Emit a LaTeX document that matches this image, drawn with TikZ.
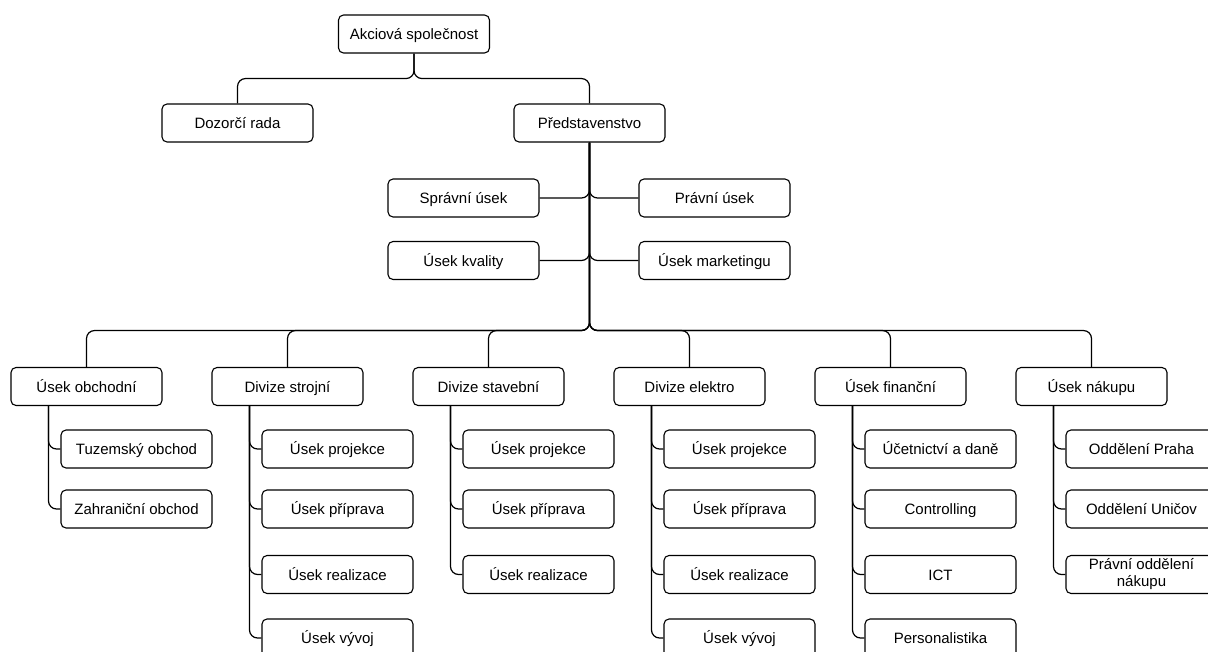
\documentclass[tikz,border=0pt]{standalone}
\usepackage{fontspec}
\setmainfont{Liberation Sans}
\usetikzlibrary{backgrounds}
\begin{document}
\begin{tikzpicture}[x=1pt,y=-1pt,
  boxbase/.style={draw=black,fill=white,line width=1.1pt,rounded corners=5pt,
    minimum width=151pt,minimum height=38pt,inner sep=0pt,align=center,
    font=\fontsize{15}{17}\selectfont},
  box/.style={boxbase,text height=11pt,text depth=0pt},
  link/.style={draw=black,line width=1.2pt,rounded corners=8pt}]
\useasboundingbox (0,0) rectangle (1208,651);
\clip (0,0) rectangle (1208,651);

% top levels
\node[box] (akc)  at (414,34)    {Akciová společnost};
\node[box] (doz)  at (237.5,123) {Dozorčí rada};
\node[box] (pred) at (589.5,123) {Představenstvo};

% staff units beside the board
\node[box] (spr)  at (463.5,198)   {Správní úsek};
\node[box] (prav) at (714.5,198)   {Právní úsek};
\node[box] (kval) at (463.5,260.5) {Úsek kvality};
\node[box] (mark) at (714.5,260.5) {Úsek marketingu};

% divisions and departments
\node[box] (obch) at (86.5,386.5)   {Úsek obchodní};
\node[box] (stro) at (287.5,386.5)  {Divize strojní};
\node[box] (stav) at (488.5,386.5)  {Divize stavební};
\node[box] (elek) at (689.5,386.5)  {Divize elektro};
\node[box] (fin)  at (890.5,386.5)  {Úsek finanční};
\node[box] (nak)  at (1091.5,386.5) {Úsek nákupu};

% sub-units
\node[box] (obch1) at (136.5,449) {Tuzemský obchod};
\node[box] (obch2) at (136.5,509) {Zahraniční obchod};

\node[box] (stro1) at (337.5,449)   {Úsek projekce};
\node[box] (stro2) at (337.5,509)   {Úsek příprava};
\node[box] (stro3) at (337.5,574.5) {Úsek realizace};
\node[box] (stro4) at (337.5,638)   {Úsek vývoj};

\node[box] (stav1) at (538.5,449)   {Úsek projekce};
\node[box] (stav2) at (538.5,509)   {Úsek příprava};
\node[box] (stav3) at (538.5,574.5) {Úsek realizace};

\node[box] (elek1) at (739.5,449)   {Úsek projekce};
\node[box] (elek2) at (739.5,509)   {Úsek příprava};
\node[box] (elek3) at (739.5,574.5) {Úsek realizace};
\node[box] (elek4) at (739.5,638)   {Úsek vývoj};

\node[box] (fin1) at (940.5,449)   {Účetnictví a daně};
\node[box] (fin2) at (940.5,509)   {Controlling};
\node[box] (fin3) at (940.5,574.5) {ICT};
\node[box] (fin4) at (940.5,638)   {Personalistika};

\node[box] (nak1) at (1141.5,449)   {Oddělení Praha};
\node[box] (nak2) at (1141.5,509)   {Oddělení Uničov};
\node[boxbase] (nak3) at (1141.5,574.5) {Právní oddělení\\nákupu};

\begin{pgfonlayer}{background}
% connectors: top
\foreach \t in {doz,pred}
  \draw[link] (akc.south) -- ++(0,25) -| (\t.north);

% connectors: board to staff units
\foreach \t in {spr,kval}
  \draw[link] (pred.south) |- (\t.east);
\foreach \t in {prav,mark}
  \draw[link] (pred.south) |- (\t.west);

% connectors: board to divisions
\foreach \t in {obch,stro,stav,elek,fin,nak}
  \draw[link] (pred.south) -- ++(0,188) -| (\t.north);

% connectors: divisions to sub-units
\foreach \p/\c in {obch/obch1,obch/obch2,
    stro/stro1,stro/stro2,stro/stro3,stro/stro4,
    stav/stav1,stav/stav2,stav/stav3,
    elek/elek1,elek/elek2,elek/elek3,elek/elek4,
    fin/fin1,fin/fin2,fin/fin3,fin/fin4,
    nak/nak1,nak/nak2,nak/nak3}
  \draw[link] ([xshift=-38pt]\p.south) |- (\c.west);
\end{pgfonlayer}
\end{tikzpicture}
\end{document}
